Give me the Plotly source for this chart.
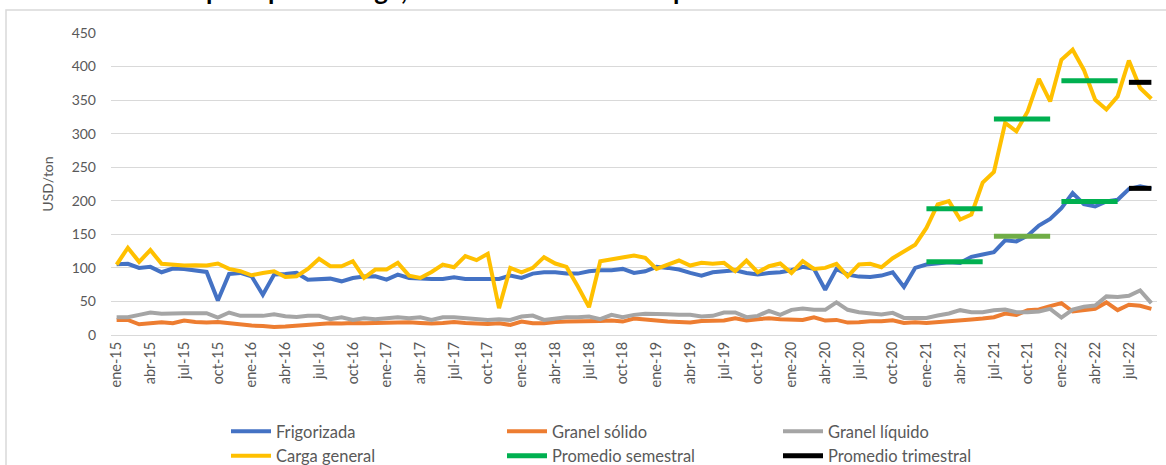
import plotly.graph_objects as go

# ---------------- data ----------------
meses = ["ene", "feb", "mar", "abr", "may", "jun", "jul", "ago", "sep", "oct", "nov", "dic"]
anios = ["15", "16", "17", "18", "19", "20", "21", "22"]
categorias = [f"{m}-{a}" for a in anios for m in meses][:93]  # ene-15 .. sep-22

frigorizada = [105.5, 106, 100, 101.5, 93.5, 99, 98.5, 96.5, 94, 51.5, 91, 92.5, 87.5, 60, 90, 91,
               92.5, 82.5, 83, 84, 80, 85, 87, 87.5, 82.5, 90, 85, 83.5, 83.5, 83.5, 86, 83.5,
               83.5, 83.5, 83.5, 88.5, 85, 91.5, 93.5, 93.5, 91.5, 91.5, 95, 96.5, 96.5, 98.5, 92.5, 95,
               101.5, 100, 97.5, 92.5, 88.5, 93.5, 95, 96.5, 92.5, 90, 92.5, 93.5, 96.5, 101.5, 98.5, 67.5,
               98.5, 90, 87, 86.5, 88.5, 93.5, 71.5, 100, 105, 107.5, 108.5, 107.5, 116.5, 120, 123.5, 141,
               139.5, 148, 163, 173, 189, 211.5, 195, 191.5, 199, 201.5, 217.5, 221.5, 218]

granel_solido = [22.5, 22.5, 16, 17.5, 19, 17.5, 21.5, 19.5, 18.5, 19.5, 17.5, 15.5, 14, 13.5, 12, 12.5,
                 14, 15, 16, 17.5, 17, 18, 17.5, 18, 18.5, 19, 19, 18, 17, 18, 19.5, 18,
                 17.5, 16.5, 17.5, 15, 20, 17.5, 17.5, 19.5, 20, 20, 20, 21, 21.5, 20, 24.5, 23.5,
                 21.5, 20, 19.5, 18.5, 21, 21.5, 21.5, 25, 21.5, 23.5, 25, 23.5, 22.5, 22.5, 26.5, 21.5,
                 22.5, 18.5, 19, 20.5, 20.5, 22, 18, 19, 18, 19, 20.5, 22, 23, 24.5, 26.5, 32,
                 30, 37, 38, 43, 47.5, 35, 37, 39, 48.5, 37, 45, 43.5, 39]

granel_liquido = [26.5, 26.5, 30, 33.5, 31.5, 32.5, 32.5, 32.5, 32.5, 26, 33.5, 28.5, 28.5, 28.5, 31, 28,
                  27, 28.5, 28.5, 23.5, 26.5, 22.5, 25, 23.5, 25, 26.5, 25, 26.5, 22.5, 26.5, 26.5, 25,
                  24, 22.5, 23.5, 22.5, 27.5, 29, 22.5, 25, 26.5, 26.5, 27.5, 23.5, 30, 26.5, 30, 31.5,
                  31.5, 31, 30, 30, 27.5, 28.5, 33.5, 33.5, 26.5, 28.5, 36, 30, 37.5, 39.5, 37.5, 37.5,
                  48.5, 37.5, 34, 32, 30.5, 33, 25.5, 25.5, 25.5, 29, 32, 37, 34, 34, 37, 38,
                  34, 34, 35, 39, 26, 38, 42, 44, 57.5, 56.5, 58.5, 66.5, 47.5]

carga_general = [105, 130, 109, 126.5, 106, 105, 103.5, 104, 103.5, 106.5, 98.5, 95, 89, 92.5, 95, 86.5,
                 87.5, 98.5, 113.5, 102.5, 102.5, 110, 85, 97.5, 97.5, 107.5, 88.5, 85, 94, 105, 101, 117.5,
                 111.5, 121, 40, 100, 93.5, 100, 116, 106.5, 101.5, 72.5, 41.5, 110, 112.5, 114.5, 118.5, 115,
                 98.5, 105, 111, 103.5, 107.5, 106, 107.5, 95, 111, 93.5, 102.5, 106.5, 92.5, 110, 98.5, 100,
                 106, 87.5, 105, 106, 101, 114.5, 124.5, 134.5, 159.5, 194.5, 199.5, 172, 179.5, 227, 243, 316,
                 303.5, 333, 381.5, 348, 410, 425, 395, 350.5, 336, 355.5, 409, 368, 352]

# Semester averages (ene-jun 21, jul-dic 21, ene-jun 22) and last quarter average (jul-sep 22)
semestres = [(72, 78), (78, 84), (84, 90)]
prom_sem_carga = [188, 322, 379]
prom_sem_frig = [109, 147, 199]
trimestre = (90, 93)
prom_trim_carga = 376.5
prom_trim_frig = 218.5

tick_labels = categorias[::3]

# ---------------- styling ----------------
FONT = "Lato"
GRIS_TXT = "#595959"
AZUL, NARANJA, GRIS, AMARILLO = "#4472C4", "#ED7D31", "#A5A5A5", "#FFC000"
VERDE, VERDE_CLARO, NEGRO = "#00B050", "#70AD47", "#000000"
LW = 4
LW_PROM = 5

fig = go.Figure()

series = [("Frigorizada", frigorizada, AZUL),
          ("Granel sólido", granel_solido, NARANJA),
          ("Granel líquido", granel_liquido, GRIS),
          ("Carga general", carga_general, AMARILLO)]
for name, vals, col in series:
    fig.add_trace(go.Scatter(x=categorias, y=vals, mode="lines", name=name,
                             line=dict(color=col, width=LW), hoverinfo="x+y"))

# semester averages
for k, (a, b) in enumerate(semestres):
    fig.add_trace(go.Scatter(x=categorias[a:b], y=[prom_sem_carga[k]] * (b - a), mode="lines",
                             name="Promedio semestral", legendgroup="sem", showlegend=(k == 0),
                             line=dict(color=VERDE, width=LW_PROM)))
    fig.add_trace(go.Scatter(x=categorias[a:b], y=[prom_sem_frig[k]] * (b - a), mode="lines",
                             name="Promedio semestral", legendgroup="sem", showlegend=False,
                             line=dict(color=VERDE_CLARO if k == 1 else VERDE, width=LW_PROM)))

a, b = trimestre
fig.add_trace(go.Scatter(x=categorias[a:b], y=[prom_trim_carga] * (b - a), mode="lines",
                         name="Promedio trimestral", legendgroup="trim",
                         line=dict(color=NEGRO, width=LW_PROM)))
fig.add_trace(go.Scatter(x=categorias[a:b], y=[prom_trim_frig] * (b - a), mode="lines",
                         name="Promedio trimestral", legendgroup="trim", showlegend=False,
                         line=dict(color=NEGRO, width=LW_PROM)))

W, H = 1166, 465
L, R, T, B = 111, 9, 33, 130
pw, ph = W - L - R, H - T - B


def px_x(x):
    return (x - L) / pw


def px_y(y):
    return (H - B - y) / ph


fig.update_layout(
    width=W, height=H,
    margin=dict(l=L, r=R, t=T, b=B, autoexpand=False),
    paper_bgcolor="white", plot_bgcolor="white",
    font=dict(family=FONT, color=GRIS_TXT, size=14),
    showlegend=True,
    legend=dict(orientation="h", x=px_x(226), xanchor="left", y=px_y(414), yanchor="top",
                entrywidth=221, entrywidthmode="pixels", itemwidth=40,
                font=dict(family=FONT, size=16.5, color=GRIS_TXT), tracegroupgap=0,
                bgcolor="rgba(0,0,0,0)"),
    xaxis=dict(type="category", range=[-0.5, len(categorias) - 0.5],
               tickmode="array", tickvals=tick_labels, ticktext=tick_labels,
               tickangle=-90, tickfont=dict(size=14.5, color=GRIS_TXT, family=FONT),
               showgrid=False, showline=True, linecolor="#D9D9D9", linewidth=1,
               ticks="", zeroline=False, fixedrange=True),
    yaxis=dict(range=[0, 450], tickmode="array", tickvals=list(range(0, 451, 50)),
               showgrid=True, gridcolor="#D9D9D9", gridwidth=1, zeroline=False,
               showline=False, ticks="", ticklabelstandoff=14,
               tickfont=dict(size=14, color=GRIS_TXT, family=FONT),
               title=dict(text="USD/ton", font=dict(size=14, color=GRIS_TXT, family=FONT), standoff=14),
               fixedrange=True),
    shapes=[dict(type="rect", xref="paper", yref="paper",
                 x0=px_x(6), x1=px_x(1180), y0=px_y(480), y1=px_y(10),
                 line=dict(color="#D9D9D9", width=1.5), fillcolor="rgba(0,0,0,0)", layer="below")],
    annotations=[dict(text="<b>por tipo de carga, desde enero 2015 a septiembre 2022</b>",
                      xref="paper", yref="paper", x=px_x(204), y=px_y(8),
                      xanchor="left", yanchor="bottom", showarrow=False,
                      font=dict(family=FONT, size=26, color="#000000"))],
)

fig.write_html("out.html", config={"displayModeBar": False},
               post_script="document.body.style.margin='0';document.body.style.padding='0';")
